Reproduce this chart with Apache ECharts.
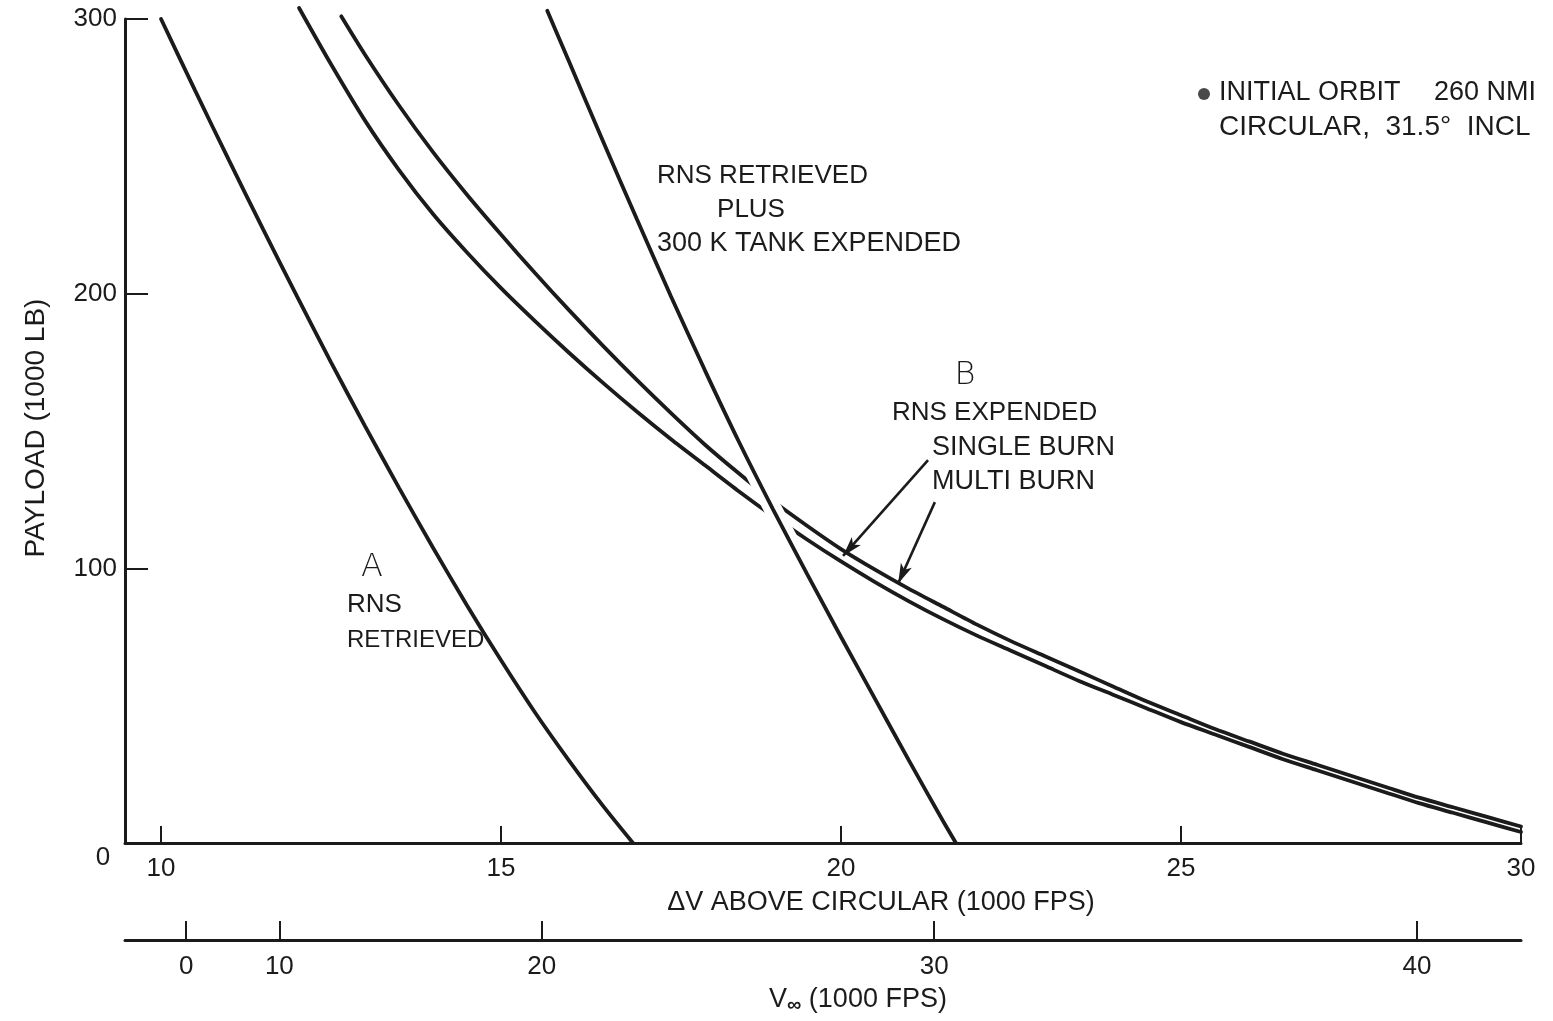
<!DOCTYPE html>
<html><head><meta charset="utf-8">
<script src="https://cdn.jsdelivr.net/npm/echarts@6/dist/echarts.min.js"></script>
<style>html,body{margin:0;padding:0;background:#fff}#c{width:1553px;height:1021px}</style>
</head><body><div id="c"></div>
<script>
// ---- axis ticks ----
const dvTicks = [10, 15, 20, 25, 30];
const payloadTicks = [0, 100, 200, 300];
const vInfLabels = [0, 10, 20, 30, 40];
const vInfAtDv = [10.37, 11.74, 15.60, 21.37, 28.47];

// ---- curve A : RNS retrieved ----
const aX = [10, 10.5, 11, 11.5, 12, 12.5, 13, 13.5, 14, 14.5, 15, 15.5, 16, 16.5, 16.94];
const aY = [300, 274, 248.5, 223.5, 199, 175, 151.8, 129.3, 107.5, 86.5, 66.5, 47.5, 30, 13.5, 0];

// ---- RNS retrieved plus 300 K tank expended ----
const cX = [15.68, 16, 16.5, 17, 17.5, 18, 18.5, 19, 19.5, 20, 20.5, 21, 21.5, 21.69];
const cY = [303, 284.5, 255.5, 227, 199, 172, 146, 121.5, 98, 75, 52.5, 30, 8, 0];

// ---- B : RNS expended, multi burn (upper) ----
const mX = [12.65, 13, 13.5, 14, 14.5, 15, 15.5, 16, 16.5, 17, 17.5, 18, 18.5, 19, 19.5, 20, 20.5, 21, 21.5, 22, 22.5, 23, 23.5, 24, 24.5, 25, 25.5, 26, 26.5, 27, 27.5, 28, 28.5, 29, 29.5, 30];
const mY = [301, 287, 268.5, 251.5, 236, 221.5, 207.5, 194, 181, 168.5, 156.5, 145, 134.5, 124.5, 115.5, 107, 99.5, 92.5, 86, 79.5, 73.5, 68, 62.5, 57, 51.5, 46.5, 41.5, 37, 32.5, 28.5, 24.5, 20.5, 16.5, 13, 9.5, 6];

// ---- B : RNS expended, single burn (lower) ----
const sX = [12.03, 12.5, 13, 13.5, 14, 14.5, 15, 15.5, 16, 16.5, 17, 17.5, 18, 18.5, 19, 19.5, 20, 20.5, 21, 21.5, 22, 22.5, 23, 23.5, 24, 24.5, 25, 25.5, 26, 26.5, 27, 27.5, 28, 28.5, 29, 29.5, 30];
const sY = [304, 283.5, 263, 245, 229, 215, 202, 190, 178.5, 167.5, 157, 147, 137.5, 128, 119, 110.5, 102.5, 95, 88, 81.5, 75.5, 70, 64.5, 59, 54, 49, 44, 39.5, 35, 30.5, 26.5, 22.5, 18.5, 14.5, 11, 7.5, 4];

// ---- leader arrows (start, tip) in data units ----
const arrowSingle = [[21.28, 139.4], [20.03, 104.5]];
const arrowMulti = [[21.38, 124.1], [20.84, 94.5]];

const INK = '#1b1b1b';
const FONT = '"Liberation Sans", Arial, sans-serif';
const pairs = (xs, ys) => xs.map((x, i) => [x, ys[i]]);
const haloPts = pairs(cX, cY).filter(p => p[1] >= 60 && p[1] <= 190);

const curve = (name, data, extra) => Object.assign({
  name, type: 'line', data, showSymbol: false, symbol: 'none', smooth: 0.25,
  clip: false, silent: true, animation: false,
  lineStyle: { color: INK, width: 3.8, cap: 'round' }
}, extra || {});

const chart = echarts.init(document.getElementById('c'), null, { renderer: 'canvas' });

const txt = (text, x, y, align, size, extra, elExtra) => Object.assign({
  type: 'text', silent: true, x, y,
  style: Object.assign({ text, x: 0, y: 0, font: (size || 26) + 'px ' + FONT, fill: INK,
    textAlign: align || 'left', textVerticalAlign: 'middle' }, extra || {})
}, elExtra || {});

chart.setOption({
  backgroundColor: '#fff',
  animation: false,
  grid: { left: 125, right: 32, top: 19, bottom: 178, containLabel: false },
  xAxis: [
    {
      type: 'value', min: 9.47, max: 30, position: 'bottom',
      axisLine: { show: true, lineStyle: { color: INK, width: 3 } },
      axisTick: { show: true, inside: true, length: 17, lineStyle: { color: INK, width: 2 }, customValues: dvTicks },
      axisLabel: { show: true, customValues: dvTicks, margin: 13, color: INK, fontSize: 26, fontFamily: FONT },
      splitLine: { show: false }
    },
    {
      type: 'value', min: 9.47, max: 30, position: 'bottom', offset: 97,
      axisLine: { show: true, onZero: false, lineStyle: { color: INK, width: 3 } },
      axisTick: { show: true, inside: true, length: 19, lineStyle: { color: INK, width: 2 }, customValues: vInfAtDv },
      axisLabel: {
        show: true, customValues: vInfAtDv, margin: 14, color: INK, fontSize: 26, fontFamily: FONT,
        formatter: v => {
          let best = 0;
          vInfAtDv.forEach((d, i) => { if (Math.abs(d - v) < Math.abs(vInfAtDv[best] - v)) best = i; });
          return String(vInfLabels[best]);
        }
      },
      splitLine: { show: false }
    }
  ],
  yAxis: {
    type: 'value', min: payloadTicks[0], max: payloadTicks[payloadTicks.length - 1], interval: 100,
    axisLine: { show: true, lineStyle: { color: INK, width: 3 } },
    axisTick: { show: true, inside: true, length: 23, lineStyle: { color: INK, width: 2 } },
    axisLabel: { show: true, margin: 8, color: INK, fontSize: 26, fontFamily: FONT,
      formatter: v => (v === 0 ? '' : String(v)) },
    splitLine: { show: false }
  },
  series: [
    curve('A RNS retrieved', pairs(aX, aY)),
    curve('B single burn', pairs(sX, sY), {
      markLine: {
        silent: true, animation: false, symbol: ['none', 'arrow'], symbolSize: [9, 20],
        label: { show: false },
        lineStyle: { color: INK, width: 2.6, type: 'solid' },
        data: [
          [{ coord: arrowSingle[0] }, { coord: arrowSingle[1] }],
          [{ coord: arrowMulti[0] }, { coord: arrowMulti[1] }]
        ]
      }
    }),
    curve('B multi burn', pairs(mX, mY)),
    curve('halo', haloPts, { lineStyle: { color: '#ffffff', width: 18, cap: 'butt' } }),
    curve('RNS retrieved plus 300 K tank expended', pairs(cX, cY))
  ],
  graphic: [
    txt('0', 103, 858, 'center', 26),
    txt('PAYLOAD (1000 LB)', 36, 428, 'center', 28, {}, { rotation: Math.PI / 2 }),
    txt('\u0394V ABOVE CIRCULAR (1000 FPS)', 881, 903, 'center', 27),
    {
      type: 'text', silent: true, x: 858, y: 1000,
      style: {
        text: '{v|V}{s|\u221e}{n| (1000 FPS)}', x: 0, y: 0, textAlign: 'center', textVerticalAlign: 'middle',
        fill: INK,
        rich: {
          v: { font: '27px ' + FONT, fill: INK },
          s: { font: 'bold 20px ' + FONT, fill: INK, padding: [10, 0, 0, 0] },
          n: { font: '27px ' + FONT, fill: INK }
        }
      }
    },
    { type: 'circle', silent: true, shape: { cx: 1204, cy: 94, r: 6 }, style: { fill: '#4a4a4a' } },
    txt('INITIAL ORBIT', 1219, 93, 'left', 27),
    txt('260 NMI', 1536, 93, 'right', 27),
    txt('CIRCULAR,  31.5\u00b0  INCL', 1219, 127, 'left', 28),
    txt('RNS RETRIEVED', 657, 176, 'left', 26),
    txt('PLUS', 751, 210, 'center', 26),
    txt('300 K TANK EXPENDED', 657, 244, 'left', 27),
    txt('B', 965, 376, 'center', 32, { font: '300 32px "DejaVu Sans", sans-serif' }),
    txt('RNS EXPENDED', 892, 413, 'left', 26),
    txt('SINGLE BURN', 932, 448, 'left', 27),
    txt('MULTI BURN', 932, 482, 'left', 27),
    txt('A', 372, 568, 'center', 32, { font: '300 32px "DejaVu Sans", sans-serif' }),
    txt('RNS', 347, 605, 'left', 26),
    txt('RETRIEVED', 347, 640, 'left', 24)
  ]
});
</script>
</body></html>
